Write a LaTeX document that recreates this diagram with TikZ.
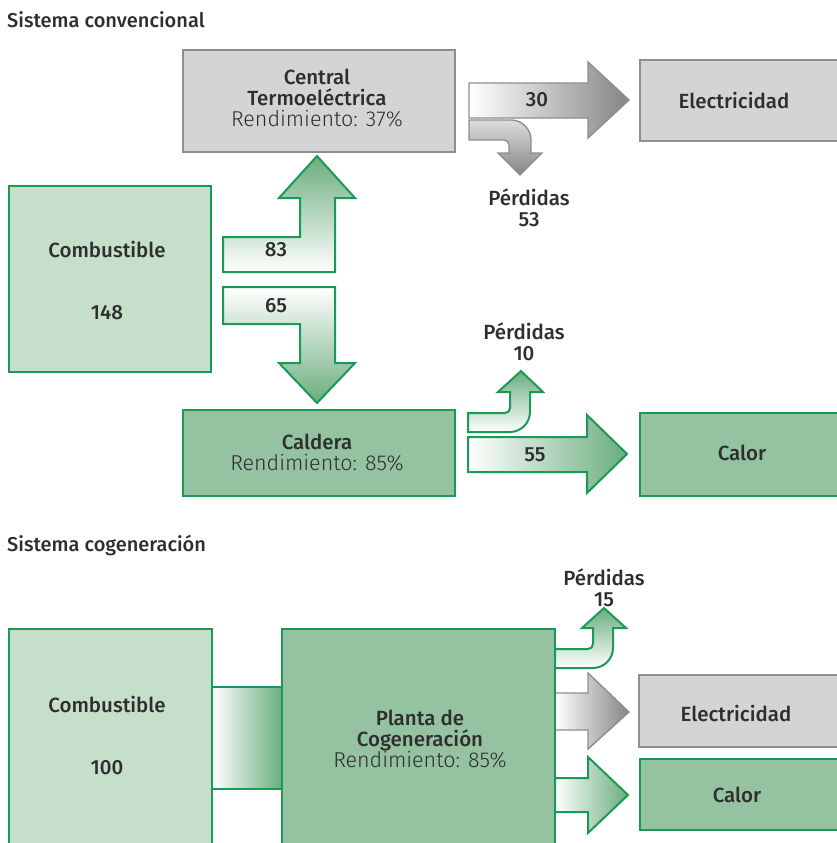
\documentclass[tikz,border=0pt]{standalone}
\usepackage{fontspec}
\setmainfont{Fira Sans Medium}
\newfontfamily\lightfont{Fira Sans Light}
\newcommand\rendtext[1]{{\lightfont\fontsize{21.5}{21}\selectfont #1}}
\definecolor{lightgreen}{HTML}{C6DFCB}
\definecolor{midgreen}{HTML}{95C2A0}
\definecolor{greenline}{HTML}{1A9A56}
\definecolor{grayfill}{HTML}{D4D4D6}
\definecolor{grayline}{HTML}{8E8E90}
\definecolor{arrgreen}{HTML}{6AAD7E}
\definecolor{arrgray}{HTML}{858587}
\definecolor{textcol}{HTML}{2E2E2E}
\begin{document}
\begin{tikzpicture}[x=1pt,y=-1pt,
  box/.style={draw, line width=2.2, outer sep=0, inner sep=0, anchor=north west},
  gbox/.style={box, draw=greenline, fill=lightgreen},
  mbox/.style={box, draw=greenline, fill=midgreen},
  ybox/.style={box, draw=grayline, fill=grayfill},
  lbl/.style={text=textcol, inner sep=0, align=center, font=\fontsize{20.5}{21}\selectfont},
  ttl/.style={text=textcol, inner sep=0, anchor=west, font=\fontsize{20}{21}\selectfont},
  garrow/.style={draw=greenline, line width=2, line join=miter},
  yarrow/.style={draw=grayline, line width=1.4, line join=miter}
]
\useasboundingbox (0,0) rectangle (837,843);
\clip (0,0) rectangle (837,843);

% ---------- Sistema convencional ----------
\node[ttl] (t1) at (7,20) {Sistema convencional};

% arrows
\shadedraw[yarrow, left color=white, right color=arrgray]
  (469,83) -- (588,83) -- (588,62) -- (629,100) -- (588,138) -- (588,118) -- (469,118) -- cycle;
\shadedraw[yarrow, top color=grayfill!80!white, bottom color=arrgray]
  (469,120) -- (511,120) .. controls (522,120) and (531,129) .. (531,140) -- (531,153) -- (542,153)
  -- (520,175) -- (498,153) -- (509,153) -- (509,145) .. controls (509,142.2) and (506.8,140) .. (504,140)
  -- (469,140) -- cycle;
\shadedraw[garrow, bottom color=white, top color=arrgreen]
  (223,237) -- (300,237) -- (300,198) -- (279,198) -- (317,156) -- (355,198) -- (335,198) -- (335,272) -- (223,272) -- cycle;
\shadedraw[garrow, top color=white, bottom color=arrgreen]
  (223,287) -- (335,287) -- (335,363) -- (355,363) -- (317,403) -- (279,363) -- (300,363) -- (300,324) -- (223,324) -- cycle;
\shadedraw[garrow, left color=white, right color=arrgreen]
  (468,437) -- (587,437) -- (587,415) -- (627,454) -- (587,493) -- (587,472) -- (468,472) -- cycle;
\shadedraw[garrow, bottom color=white, top color=arrgreen]
  (468,432) -- (510,432) .. controls (521,432) and (530,423) .. (530,412) -- (530,392) -- (543,392)
  -- (521,371) -- (498,392) -- (510,392) -- (510,408) .. controls (510,410.8) and (507.8,413) .. (505,413)
  -- (468,413) -- cycle;

% boxes
\node[ybox, minimum width=272, minimum height=102] (central) at (183,50) {};
\node[ybox, minimum width=230, minimum height=81] (elec1) at (640,60) {};
\node[gbox, minimum width=202, minimum height=186] (comb1) at (9,186) {};
\node[mbox, minimum width=272, minimum height=86] (caldera) at (183,410) {};
\node[mbox, minimum width=230, minimum height=83] (calor1) at (640,413) {};

% texts
\node[lbl] (tcentral) at (317,98) {Central\\Termoeléctrica\\\rendtext{Rendimiento: 37\%}};
\node[lbl] (telec1) at (734,100) {Electricidad};
\node[lbl] (t30) at (537,100) {30};
\node[lbl] (tp53) at (529,208) {Pérdidas\\53};
\node[lbl] (tcomb1) at (107,249) {Combustible};
\node[lbl] (t148) at (107,313) {148};
\node[lbl] (t83) at (276,250) {83};
\node[lbl] (t65) at (276,306) {65};
\node[lbl] (tp10) at (524,342) {Pérdidas\\10};
\node[lbl] (tcaldera) at (317,453) {Caldera\\\rendtext{Rendimiento: 85\%}};
\node[lbl] (t55) at (535,455) {55};
\node[lbl] (tcalor1) at (742,453) {Calor};

% ---------- Sistema cogeneración ----------
\node[ttl] (t2) at (7,545) {Sistema cogeneración};

\shade[left color=white, right color=arrgreen] (212,687) rectangle (282,789);
\draw[greenline, line width=2] (212,687) -- (282,687) (212,789) -- (282,789);

\shadedraw[garrow, bottom color=white, top color=arrgreen]
  (555,668) -- (593,668) .. controls (604,668) and (613,659) .. (613,648) -- (613,628) -- (626,628)
  -- (604,608) -- (582,628) -- (593,628) -- (593,644) .. controls (593,646.8) and (590.8,649) .. (588,649)
  -- (555,649) -- cycle;
\shadedraw[yarrow, left color=white, right color=arrgray]
  (555,693) -- (588,693) -- (588,673) -- (629,712) -- (588,749) -- (588,730) -- (555,730) -- cycle;
\shadedraw[garrow, left color=white, right color=arrgreen]
  (555,778) -- (588,778) -- (588,757) -- (628,795) -- (588,833) -- (588,812) -- (555,812) -- cycle;

\node[gbox, minimum width=203, minimum height=240] (comb2) at (9,629) {};
\node[mbox, minimum width=273, minimum height=240] (planta) at (282,629) {};
\node[ybox, minimum width=230, minimum height=72] (elec2) at (639,675) {};
\node[mbox, minimum width=230, minimum height=71] (calor2) at (640,759) {};

\node[lbl] (tcomb2) at (107,704) {Combustible};
\node[lbl] (t100) at (107,768) {100};
\node[lbl] (tplanta) at (420,739) {Planta de\\Cogeneración\\\rendtext{Rendimiento: 85\%}};
\node[lbl] (tp15) at (604,588) {Pérdidas\\15};
\node[lbl] (telec2) at (736,713) {Electricidad};
\node[lbl] (tcalor2) at (737,795) {Calor};
\end{tikzpicture}
\end{document}
